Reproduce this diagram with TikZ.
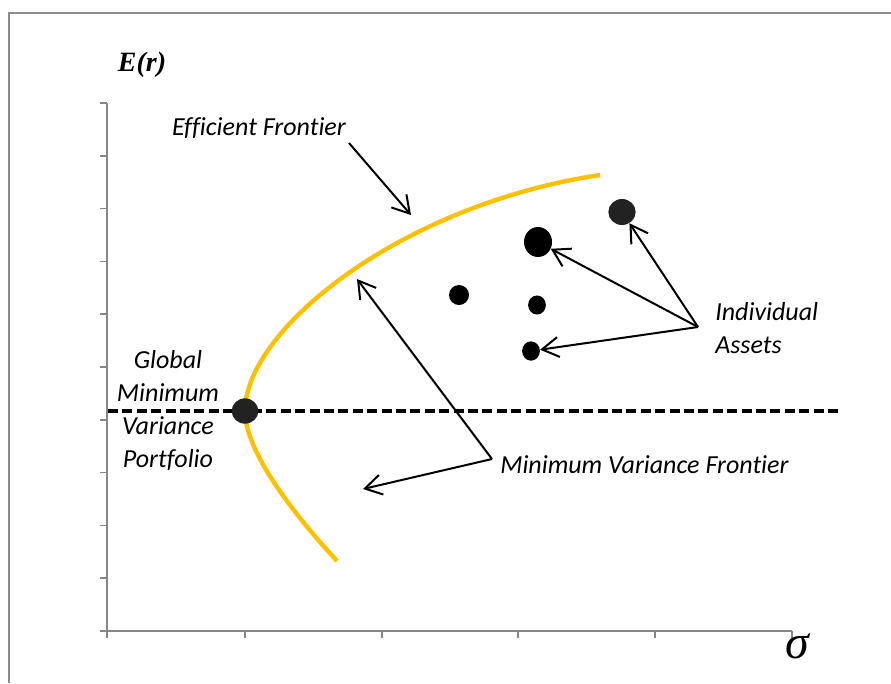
\documentclass[tikz,border=0pt]{standalone}
\usepackage{fontspec}
\setmainfont{Carlito}[Ligatures=NoCommon]
\newfontfamily\serifmath{Liberation Serif}
\usetikzlibrary{arrows.meta,shapes.geometric}
\definecolor{axisgray}{HTML}{868686}
\definecolor{framegray}{HTML}{8C8C8C}
\definecolor{frontier}{HTML}{FFC000}
\definecolor{dotdark}{HTML}{222222}
\begin{document}
\begin{tikzpicture}[x=0.75pt,y=-0.75pt,
  lbl/.style={font=\fontsize{19.5}{24.75}\selectfont\itshape, inner sep=0pt},
  ptr/.style={draw=black, line width=1.5pt,
    -{Straight Barb[length=12.5pt,width=15pt,line width=1.5pt]}},
  dotblk/.style={ellipse, fill=black, inner sep=0pt},
  axisline/.style={draw=axisgray, line width=1.3pt},
  tickline/.style={draw=axisgray, line width=1.1pt}]
\useasboundingbox (0,0) rectangle (891,683);
% frame
\draw[framegray, line width=1.5pt] (9,683) -- (9,13) -- (891,13);
% axes
\coordinate (yaxtop) at (107,103);
\coordinate (yaxbot) at (107,638);
\coordinate (xaxl) at (100,631);
\coordinate (xaxr) at (792,631);
\draw[axisline] (yaxtop) -- (yaxbot);
\draw[axisline] (xaxl) -- (xaxr);
\foreach \yy in {103,155.8,208.6,261.4,314.2,367,419.8,472.6,525.4,578.2}
  \draw[tickline] (100,\yy) -- (107,\yy);
\foreach \xx in {245,382,518,655,792}
  \draw[tickline] (\xx,631) -- (\xx,638);
% dashed GMV line
\coordinate (dl) at (108,411);
\coordinate (dr) at (840,411);
\draw[black, line width=2.5pt, dash pattern=on 7.5pt off 3.3pt] (dl) -- (dr);
% frontier curve
\coordinate (cbot) at (337,561);
\coordinate (cvtx) at (245,411);
\coordinate (ctop) at (600,175);
\draw[frontier, line width=3.3pt] (cbot) .. controls (290,510) and (245,450) .. (cvtx)
  .. controls (245,330) and (400,205) .. (ctop);
% points
\node[dotblk, fill=dotdark, minimum width=20pt, minimum height=19pt] (gmv) at (cvtx) {};
\node[dotblk, minimum width=21pt, minimum height=22.5pt] (a1) at (538,242) {};
\node[dotblk, fill=dotdark, minimum width=20.5pt, minimum height=19.5pt] (a2) at (622,212) {};
\node[dotblk, minimum width=15pt, minimum height=15pt] (a3) at (459,295) {};
\node[dotblk, minimum width=13.3pt, minimum height=14.3pt] (a4) at (537,305) {};
\node[dotblk, minimum width=13.3pt, minimum height=14.5pt] (a5) at (531,351) {};
% labels
\node[font=\serifmath\fontsize{21}{24}\selectfont\bfseries\itshape, inner sep=0pt] (ylab) at (142,65) {E(r)};
\node[inner sep=0pt, font=\serifmath\fontsize{36}{40}\selectfont\itshape] (xlab) at (797,646) {σ};
\node[lbl, anchor=base] (eflab) at (259,135) {Efficient Frontier};
\node[lbl, anchor=base west] (mvlab) at (500,473) {Minimum Variance Frontier};
\node[lbl, align=left, anchor=north west] (ialab) at (715,302) {Individual\\Assets};
\node[lbl, align=center, anchor=north] (gmvlab) at (168,350) {Global\\Minimum\\Variance\\Portfolio};
% connectors
\coordinate (efs) at (349,143);
\coordinate (eft) at (411,215);
\draw[ptr] (efs) -- (eft);
\coordinate (mvj) at (492,459);
\coordinate (mvt1) at (357,279);
\coordinate (mvt2) at (363,489);
\draw[ptr] (mvj) -- (mvt1);
\draw[ptr] (mvj) -- (mvt2);
\coordinate (iaj) at (698,327);
\draw[ptr] (iaj) -- (a2);
\draw[ptr] (iaj) -- (a1);
\draw[ptr] (iaj) -- (a5);
\end{tikzpicture}
\end{document}
